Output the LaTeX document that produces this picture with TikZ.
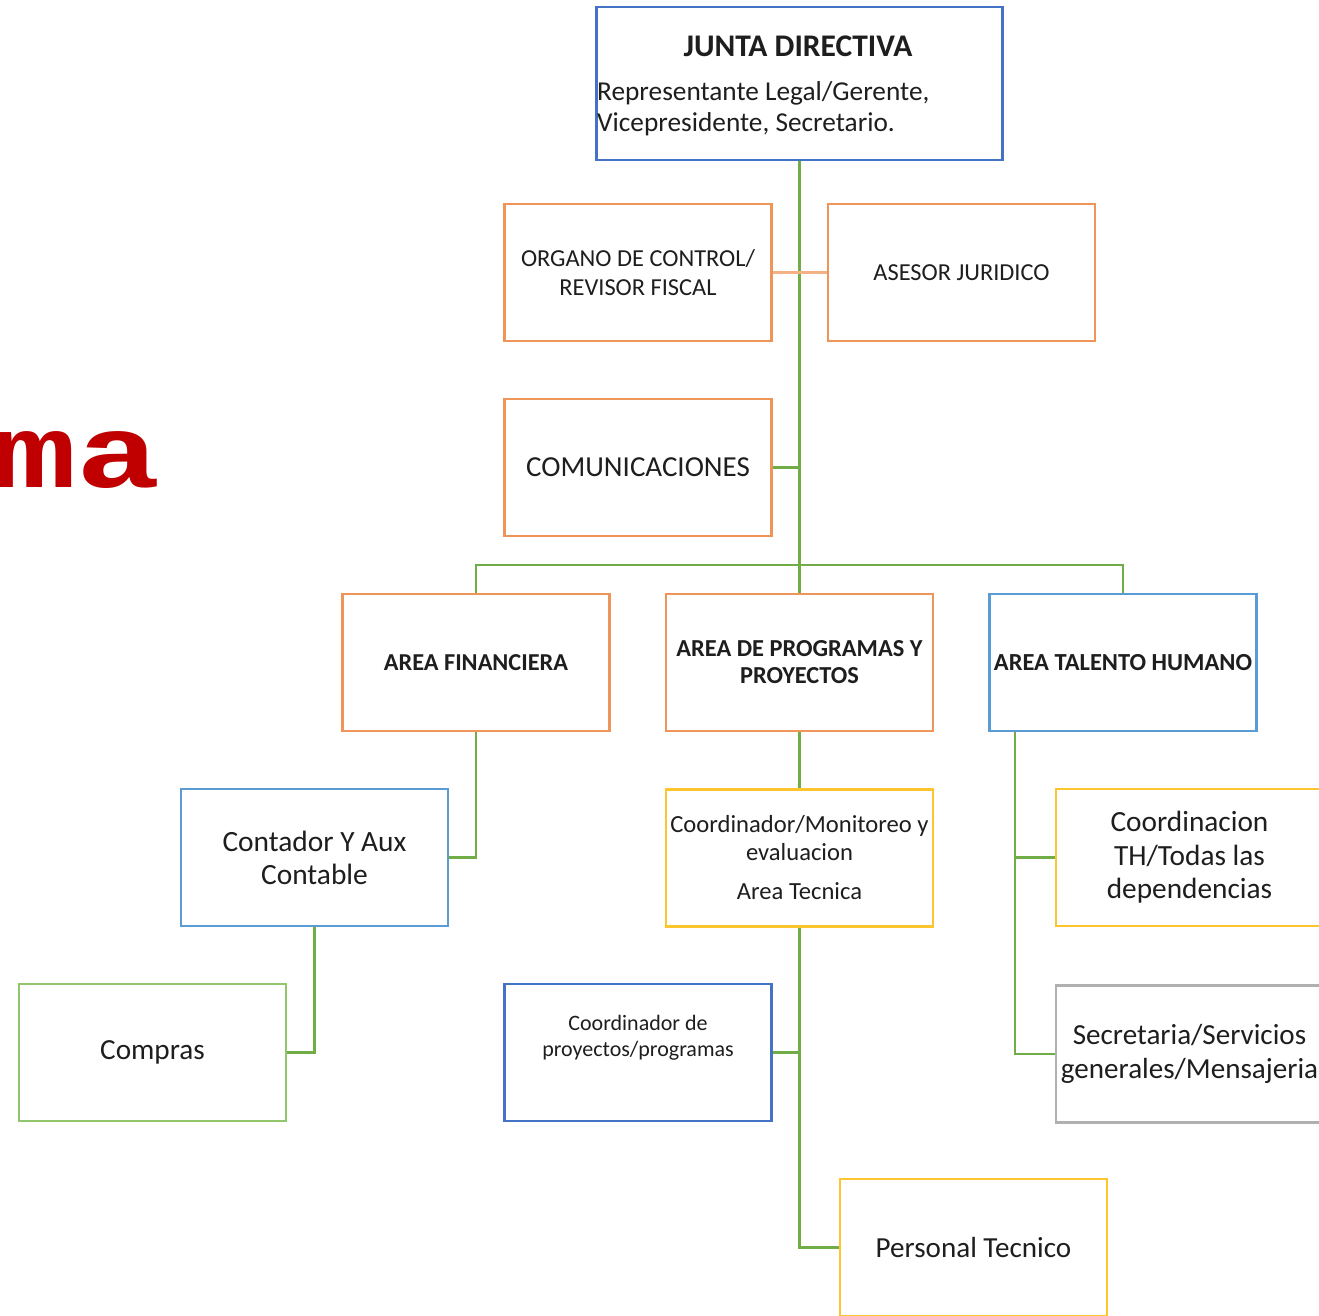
\documentclass[tikz,border=0pt]{standalone}
\usepackage{graphicx}
\usepackage{fontspec}
\setmainfont{Carlito}
\newfontfamily\redmono{Liberation Mono}
\definecolor{cblue}{HTML}{4472C4}
\definecolor{clblue}{HTML}{5B9BD5}
\definecolor{corange}{HTML}{F0955A}
\definecolor{clorange}{HTML}{F4B183}
\definecolor{cyellow}{HTML}{FFC52E}
\definecolor{cgreen}{HTML}{70AD47}
\definecolor{clgreen}{HTML}{92C66B}
\definecolor{cgray}{HTML}{B0B0B0}
\definecolor{cred}{HTML}{C00000}
\definecolor{ctext}{HTML}{1E1E1E}
\tikzset{
  box/.style={draw=#1, line width=2.6pt, fill=white, rectangle, minimum width=267pt, minimum height=137pt, inner sep=2pt, align=center, text=ctext},
  link/.style={draw=cgreen, line width=2.4pt},
  lbl/.style={inner sep=0pt, text=ctext}
}
\begin{document}
\begin{tikzpicture}[x=1pt,y=-1pt]
\clip (0,0) rectangle (1319,1316);
\fill[white] (0,0) rectangle (1319,1316);
% red title fragment
\node[anchor=base east, inner sep=0pt, text=cred, font=\redmono\bfseries\fontsize{104}{104}\selectfont] (titlefrag) at (161,487) {\scalebox{1.35}[1]{ama}};
% connectors
\coordinate (busc) at (799.5,565);
\draw[link] (799.5,160) -- (799.5,594);
% boxes
\node[box=cblue, minimum width=406pt, minimum height=153pt] (junta) at (799.5,83.5) {};
\node[lbl, font=\bfseries\fontsize{31.5}{34}\selectfont] (juntatitle) at (798,46) {JUNTA DIRECTIVA};
\node[lbl, anchor=north west, align=left, font=\fontsize{27.3}{31}\selectfont] (juntatext) at (597,81) {Representante Legal/Gerente,\\Vicepresidente, Secretario.};
\node[box=corange, font=\fontsize{24.4}{29}\selectfont] (organo) at (638,272.5) {ORGANO DE CONTROL/\\REVISOR FISCAL};
\node[box=corange, font=\fontsize{24.4}{29}\selectfont] (asesor) at (961.5,272.5) {ASESOR JURIDICO};
\node[box=corange, font=\fontsize{29}{32}\selectfont] (comunic) at (638,467.5) {COMUNICACIONES};
\node[box=corange, font=\bfseries\fontsize{24.3}{27}\selectfont] (financ) at (476,662.5) {AREA FINANCIERA};
\node[box=corange, font=\bfseries\fontsize{24.4}{27}\selectfont] (progr) at (799.5,662.5) {AREA DE PROGRAMAS Y\\PROYECTOS};
\node[box=clblue, font=\bfseries\fontsize{24.5}{27}\selectfont] (talento) at (1123,662.5) {AREA TALENTO HUMANO};
\node[box=clblue, font=\fontsize{29.4}{33}\selectfont] (contador) at (314.5,857.5) {Contador Y Aux\\Contable};
\node[box=cyellow, font=\fontsize{24.6}{28}\selectfont] (monitor) at (799.5,858) {Coordinador/Monitoreo y\\evaluacion\\[11pt]Area Tecnica};
\node[box=cyellow, font=\fontsize{29.3}{33.5}\selectfont] (coordth) at (1189.5,857.5) {Coordinacion\\TH/Todas las\\dependencias};
\node[box=clgreen, font=\fontsize{29.2}{32}\selectfont] (compras) at (152.5,1052.5) {Compras};
\node[box=cblue] (coordproy) at (638,1052.5) {};
\node[lbl, align=center, font=\fontsize{22}{26}\selectfont] (coordproytext) at (638,1038) {Coordinador de\\proyectos/programas};
\node[box=cgray, font=\fontsize{29.1}{34}\selectfont] (secret) at (1189.5,1054) {Secretaria/Servicios\\generales/Mensajeria};
\node[box=cyellow, font=\fontsize{29.1}{32}\selectfont] (personal) at (973.5,1247.5) {Personal Tecnico};
% links
\draw[draw=clorange, line width=2.4pt] (organo.east) -- (asesor.west);
\draw[link] (comunic.east) -- (comunic.east -| progr.north);
\draw[link] (financ.north) |- (busc) -| (talento.north);
\draw[link] (financ.south) |- (contador.east);
\draw[link] (contador.south) |- (compras.east);
\draw[link] (progr.south) -- (monitor.north);
\draw[link] (monitor.south) |- (coordproy.east);
\draw[link] (monitor.south) |- (personal.west);
\coordinate (tl) at ([xshift=27pt]talento.south west);
\draw[link] (tl) |- (coordth.west);
\draw[link] (tl) |- (secret.west);
\end{tikzpicture}
\end{document}
